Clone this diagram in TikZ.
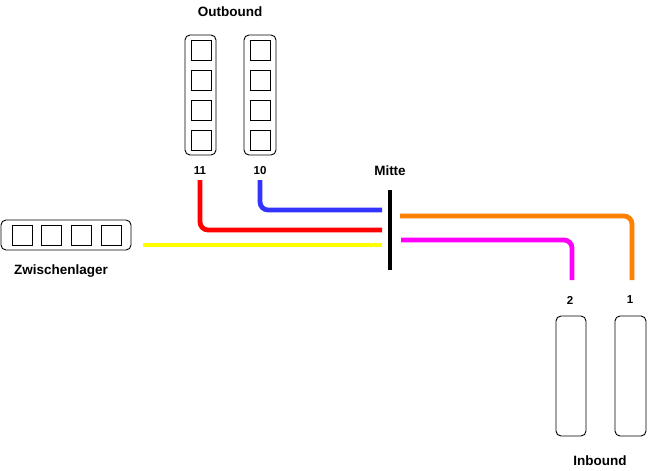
\documentclass[tikz,border=0pt]{standalone}
\usepackage{fontspec}
\setmainfont{Liberation Sans}
\begin{document}
\begin{tikzpicture}[x=1pt,y=-1pt,
  rack/.style={draw=black,line width=0.9pt,rounded corners=5pt},
  slot/.style={draw=black,line width=0.9pt,minimum width=20pt,minimum height=20pt,inner sep=0pt},
  title/.style={font=\fontsize{13.5}{15}\selectfont\bfseries,inner sep=0pt},
  num/.style={font=\fontsize{11.5}{13}\selectfont\bfseries,inner sep=0pt},
  wire/.style={line width=4.8pt,rounded corners=8pt},
  every node/.style={anchor=center}]
\useasboundingbox (0,0) rectangle (651,471);
% Outbound racks
\node[rack,minimum width=31pt,minimum height=120pt,inner sep=0pt] (ob11) at (200.5,95) {};
\node[rack,minimum width=32pt,minimum height=120pt,inner sep=0pt] (ob10) at (260,95) {};
\foreach \i/\y in {1/50,2/80,3/110,4/140}{
  \node[slot] (a\i) at (201,\y) {};
  \node[slot] (b\i) at (260,\y) {};
}
\node[title] (outbound) at (230,12) {Outbound};
\node[num] (l11) at (200,171) {11};
\node[num] (l10) at (260,171) {10};
% Zwischenlager
\node[rack,minimum width=130pt,minimum height=30pt,inner sep=0pt] (zw) at (66,235) {};
\foreach \i/\x in {1/22,2/51,3/81,4/111}{
  \node[slot] (z\i) at (\x,235) {};
}
\node[title] (zwlabel) at (61,271) {Zwischenlager};
% Mitte
\node[title] (mitte) at (390,171) {Mitte};
\coordinate (mt) at (390,190);
\coordinate (mb) at (390,270);
\draw[line width=4.8pt,black] (mt) -- (mb);
% Inbound
\node[rack,minimum width=30pt,minimum height=120pt,inner sep=0pt] (in2) at (571,376) {};
\node[rack,minimum width=31pt,minimum height=120pt,inner sep=0pt] (in1) at (630.5,376) {};
\node[num] (l2) at (570,300) {2};
\node[num] (l1) at (630,300) {1};
\node[title] (inbound) at (600,461) {Inbound};
% wires
\coordinate (r0) at (200,180); \coordinate (r1) at (200,230); \coordinate (r2) at (382,230);
\coordinate (b0) at (260,180); \coordinate (b1) at (260,210); \coordinate (b2) at (382,210);
\coordinate (y0) at (143,245); \coordinate (y2) at (382,245);
\coordinate (o0) at (400,216); \coordinate (o1) at (632,216); \coordinate (o2) at (632,280);
\coordinate (m0) at (401,240); \coordinate (m1) at (572,240); \coordinate (m2) at (572,280);
\draw[wire,draw={rgb,255:red,255;green,0;blue,0}] (r0) -- (r1) -- (r2);
\draw[wire,draw={rgb,255:red,51;green,51;blue,255}] (b0) -- (b1) -- (b2);
\draw[wire,draw={rgb,255:red,255;green,255;blue,0}] (y0) -- (y2);
\draw[wire,draw={rgb,255:red,255;green,128;blue,0}] (o0) -- (o1) -- (o2);
\draw[wire,draw={rgb,255:red,255;green,0;blue,255}] (m0) -- (m1) -- (m2);
\end{tikzpicture}
\end{document}
